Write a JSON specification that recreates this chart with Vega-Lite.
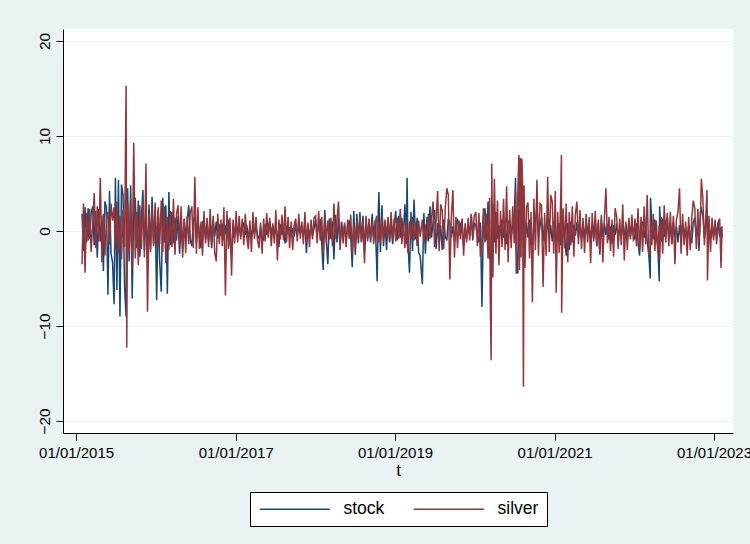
{
"$schema": "https://vega.github.io/schema/vega-lite/v6.json",
"width": 670, "height": 404,
"autosize": {"type": "none"},
"padding": {"left": 63, "top": 29, "right": 17, "bottom": 111},
"background": "#eaf2f3",
"config": {"view": {"fill": "white", "stroke": null}, "font": "Liberation Sans"},
"data": {"values": [
{"t":"2015-01-28","stock":1.8,"silver":-3.5},{"t":"2015-02-04","stock":-2.1,"silver":2.9},{"t":"2015-02-11","stock":2.5,"silver":-4.4},{"t":"2015-02-18","stock":-1.2,"silver":1.9},{"t":"2015-02-25","stock":2.4,"silver":-1.0},
{"t":"2015-03-04","stock":-0.8,"silver":2.3},{"t":"2015-03-11","stock":1.9,"silver":-2.2},{"t":"2015-03-18","stock":2.6,"silver":0.8},{"t":"2015-03-25","stock":-1.5,"silver":4.0},
{"t":"2015-04-01","stock":2.1,"silver":-1.8},{"t":"2015-04-08","stock":-2.8,"silver":2.6},{"t":"2015-04-15","stock":2.3,"silver":-1.1},{"t":"2015-04-22","stock":-1.1,"silver":5.6},{"t":"2015-04-29","stock":1.6,"silver":-3.3},
{"t":"2015-05-06","stock":-4.2,"silver":1.8},{"t":"2015-05-13","stock":3.1,"silver":-2.6},{"t":"2015-05-20","stock":2.5,"silver":1.2},{"t":"2015-05-27","stock":-6.7,"silver":2.0},
{"t":"2015-06-03","stock":4.2,"silver":-1.4},{"t":"2015-06-10","stock":-2.4,"silver":2.9},{"t":"2015-06-17","stock":-3.3,"silver":1.1},{"t":"2015-06-24","stock":-7.7,"silver":2.5},{"t":"2015-06-30","stock":5.6,"silver":-1.9},
{"t":"2015-07-07","stock":-6.2,"silver":3.1},{"t":"2015-07-14","stock":5.4,"silver":-2.3},{"t":"2015-07-21","stock":-9.0,"silver":1.6},{"t":"2015-07-28","stock":4.9,"silver":-3.0},
{"t":"2015-08-04","stock":3.8,"silver":2.2},{"t":"2015-08-11","stock":-5.8,"silver":-1.7},{"t":"2015-08-18","stock":-9.0,"silver":15.3},{"t":"2015-08-21","stock":2.6,"silver":-12.3},{"t":"2015-08-25","stock":4.5,"silver":2.9},
{"t":"2015-09-01","stock":-3.2,"silver":-2.1},{"t":"2015-09-08","stock":4.8,"silver":3.4},{"t":"2015-09-15","stock":-7.1,"silver":-4.0},{"t":"2015-09-22","stock":2.3,"silver":9.3},{"t":"2015-09-29","stock":3.5,"silver":-2.9},
{"t":"2015-10-06","stock":-1.8,"silver":2.0},{"t":"2015-10-13","stock":3.2,"silver":-3.6},{"t":"2015-10-20","stock":-2.7,"silver":2.7},{"t":"2015-10-27","stock":1.3,"silver":-1.9},
{"t":"2015-11-03","stock":4.3,"silver":3.1},{"t":"2015-11-10","stock":-2.0,"silver":-2.8},{"t":"2015-11-17","stock":1.7,"silver":7.1},{"t":"2015-11-24","stock":-3.0,"silver":-8.5},
{"t":"2015-12-01","stock":2.8,"silver":1.8},{"t":"2015-12-08","stock":-1.9,"silver":-2.2},{"t":"2015-12-15","stock":3.6,"silver":2.4},{"t":"2015-12-22","stock":-1.4,"silver":-1.6},{"t":"2015-12-29","stock":2.2,"silver":3.0},
{"t":"2016-01-05","stock":-7.3,"silver":-1.8},{"t":"2016-01-12","stock":2.1,"silver":2.5},{"t":"2016-01-19","stock":-3.3,"silver":-1.4},{"t":"2016-01-26","stock":-6.4,"silver":3.2},
{"t":"2016-02-02","stock":3.5,"silver":-2.2},{"t":"2016-02-09","stock":-1.2,"silver":2.6},{"t":"2016-02-16","stock":2.7,"silver":-3.4},{"t":"2016-02-23","stock":-6.6,"silver":1.5},
{"t":"2016-03-01","stock":4.1,"silver":-2.0},{"t":"2016-03-08","stock":-1.5,"silver":2.1},{"t":"2016-03-15","stock":2.0,"silver":-1.7},{"t":"2016-03-22","stock":-1.3,"silver":3.4},{"t":"2016-03-29","stock":1.4,"silver":-2.5},
{"t":"2016-04-05","stock":-1.0,"silver":1.8},{"t":"2016-04-12","stock":1.6,"silver":2.7},{"t":"2016-04-19","stock":-2.4,"silver":-1.5},{"t":"2016-04-26","stock":0.9,"silver":2.6},
{"t":"2016-05-03","stock":-1.9,"silver":-2.8},{"t":"2016-05-10","stock":1.3,"silver":1.2},{"t":"2016-05-17","stock":-0.8,"silver":-2.3},{"t":"2016-05-24","stock":1.1,"silver":1.6},{"t":"2016-05-31","stock":2.7,"silver":-1.4},
{"t":"2016-06-07","stock":-0.9,"silver":1.9},{"t":"2016-06-14","stock":-1.6,"silver":2.6},{"t":"2016-06-21","stock":1.0,"silver":-1.8},{"t":"2016-06-28","stock":1.5,"silver":5.7},
{"t":"2016-07-05","stock":-1.2,"silver":-2.4},{"t":"2016-07-12","stock":1.4,"silver":2.5},{"t":"2016-07-19","stock":-0.7,"silver":-1.9},{"t":"2016-07-26","stock":-1.8,"silver":1.0},
{"t":"2016-08-02","stock":0.9,"silver":-2.6},{"t":"2016-08-09","stock":1.2,"silver":2.1},{"t":"2016-08-16","stock":-0.9,"silver":-1.3},{"t":"2016-08-23","stock":0.6,"silver":1.4},{"t":"2016-08-30","stock":-1.1,"silver":-1.7},
{"t":"2016-09-06","stock":0.8,"silver":2.3},{"t":"2016-09-13","stock":-1.8,"silver":-1.2},{"t":"2016-09-20","stock":1.1,"silver":1.6},{"t":"2016-09-27","stock":-0.6,"silver":-2.3},
{"t":"2016-10-04","stock":1.0,"silver":-3.2},{"t":"2016-10-11","stock":-0.8,"silver":1.8},{"t":"2016-10-18","stock":0.7,"silver":-1.4},{"t":"2016-10-25","stock":-0.5,"silver":1.2},
{"t":"2016-11-01","stock":0.8,"silver":-1.6},{"t":"2016-11-08","stock":-1.0,"silver":2.5},{"t":"2016-11-15","stock":0.6,"silver":-6.8},{"t":"2016-11-22","stock":-0.8,"silver":2.1},{"t":"2016-11-29","stock":1.2,"silver":-1.9},
{"t":"2016-12-06","stock":-1.3,"silver":1.4},{"t":"2016-12-13","stock":-2.4,"silver":-4.7},{"t":"2016-12-20","stock":0.9,"silver":1.2},{"t":"2016-12-27","stock":-0.7,"silver":-1.3},
{"t":"2017-01-03","stock":0.7,"silver":2.1},{"t":"2017-01-10","stock":-0.5,"silver":-1.2},{"t":"2017-01-17","stock":0.4,"silver":1.6},{"t":"2017-01-24","stock":-0.6,"silver":-0.9},{"t":"2017-01-31","stock":0.3,"silver":1.3},
{"t":"2017-02-07","stock":0.9,"silver":-1.5},{"t":"2017-02-14","stock":-0.4,"silver":1.8},{"t":"2017-02-21","stock":0.6,"silver":-0.7},{"t":"2017-02-28","stock":-0.9,"silver":-1.9},
{"t":"2017-03-07","stock":0.5,"silver":1.1},{"t":"2017-03-14","stock":-0.7,"silver":-2.2},{"t":"2017-03-21","stock":0.4,"silver":2.0},{"t":"2017-03-28","stock":-0.3,"silver":-0.8},
{"t":"2017-04-04","stock":0.6,"silver":1.5},{"t":"2017-04-11","stock":-0.5,"silver":-1.0},{"t":"2017-04-18","stock":-0.8,"silver":-1.8},{"t":"2017-04-25","stock":0.4,"silver":0.9},
{"t":"2017-05-02","stock":-0.6,"silver":-2.4},{"t":"2017-05-09","stock":-0.9,"silver":1.3},{"t":"2017-05-16","stock":0.7,"silver":-1.1},{"t":"2017-05-23","stock":-0.4,"silver":1.9},{"t":"2017-05-30","stock":0.5,"silver":-0.7},
{"t":"2017-06-06","stock":1.0,"silver":1.4},{"t":"2017-06-13","stock":-0.3,"silver":-1.6},{"t":"2017-06-20","stock":0.6,"silver":0.8},{"t":"2017-06-27","stock":-0.4,"silver":-1.3},
{"t":"2017-07-04","stock":0.5,"silver":2.2},{"t":"2017-07-11","stock":-0.6,"silver":-3.1},{"t":"2017-07-18","stock":-1.7,"silver":1.2},{"t":"2017-07-25","stock":0.7,"silver":-0.9},
{"t":"2017-08-01","stock":-0.4,"silver":1.7},{"t":"2017-08-08","stock":0.5,"silver":-1.0},{"t":"2017-08-15","stock":-1.3,"silver":2.6},{"t":"2017-08-22","stock":0.6,"silver":-1.2},{"t":"2017-08-29","stock":-0.3,"silver":1.5},
{"t":"2017-09-05","stock":0.4,"silver":-1.8},{"t":"2017-09-12","stock":-0.5,"silver":1.0},{"t":"2017-09-19","stock":0.3,"silver":-2.0},{"t":"2017-09-26","stock":-0.6,"silver":0.7},
{"t":"2017-10-03","stock":0.7,"silver":1.3},{"t":"2017-10-10","stock":-0.4,"silver":-1.1},{"t":"2017-10-17","stock":0.5,"silver":1.8},{"t":"2017-10-24","stock":-0.3,"silver":-0.8},{"t":"2017-10-31","stock":0.6,"silver":1.0},
{"t":"2017-11-07","stock":-0.5,"silver":-1.4},{"t":"2017-11-14","stock":0.8,"silver":2.0},{"t":"2017-11-21","stock":-2.3,"silver":-1.2},{"t":"2017-11-28","stock":0.7,"silver":0.9},
{"t":"2017-12-05","stock":-0.6,"silver":-1.7},{"t":"2017-12-12","stock":0.4,"silver":1.2},{"t":"2017-12-19","stock":-0.5,"silver":-0.9},{"t":"2017-12-26","stock":0.3,"silver":1.4},
{"t":"2018-01-02","stock":1.2,"silver":1.6},{"t":"2018-01-09","stock":-0.5,"silver":-1.3},{"t":"2018-01-16","stock":0.8,"silver":2.1},{"t":"2018-01-23","stock":1.1,"silver":-1.0},{"t":"2018-01-30","stock":-1.4,"silver":1.5},
{"t":"2018-02-06","stock":-4.1,"silver":-2.3},{"t":"2018-02-13","stock":2.2,"silver":1.8},{"t":"2018-02-20","stock":-0.9,"silver":-1.2},{"t":"2018-02-27","stock":-3.5,"silver":1.1},
{"t":"2018-03-06","stock":1.3,"silver":-0.9},{"t":"2018-03-13","stock":-0.8,"silver":1.4},{"t":"2018-03-20","stock":1.0,"silver":-1.6},{"t":"2018-03-27","stock":-3.0,"silver":2.9},
{"t":"2018-04-03","stock":1.7,"silver":-0.8},{"t":"2018-04-10","stock":-1.2,"silver":1.2},{"t":"2018-04-17","stock":1.4,"silver":3.1},{"t":"2018-04-24","stock":-1.5,"silver":-2.0},
{"t":"2018-05-01","stock":0.9,"silver":1.0},{"t":"2018-05-08","stock":-0.6,"silver":-1.3},{"t":"2018-05-15","stock":0.7,"silver":0.9},{"t":"2018-05-22","stock":-1.0,"silver":-1.7},{"t":"2018-05-29","stock":0.5,"silver":1.2},
{"t":"2018-06-05","stock":1.1,"silver":-0.8},{"t":"2018-06-12","stock":-0.7,"silver":1.7},{"t":"2018-06-19","stock":-3.8,"silver":-2.5},{"t":"2018-06-26","stock":2.1,"silver":0.7},
{"t":"2018-07-03","stock":-2.5,"silver":-1.8},{"t":"2018-07-10","stock":1.8,"silver":1.1},{"t":"2018-07-17","stock":-1.3,"silver":-0.9},{"t":"2018-07-24","stock":2.0,"silver":1.5},{"t":"2018-07-31","stock":-1.1,"silver":-1.2},
{"t":"2018-08-07","stock":1.6,"silver":0.8},{"t":"2018-08-14","stock":-2.2,"silver":-3.4},{"t":"2018-08-21","stock":1.3,"silver":1.6},{"t":"2018-08-28","stock":-0.9,"silver":-1.1},
{"t":"2018-09-04","stock":0.8,"silver":1.3},{"t":"2018-09-11","stock":-1.2,"silver":-0.7},{"t":"2018-09-18","stock":1.8,"silver":1.0},{"t":"2018-09-25","stock":-0.6,"silver":-1.4},
{"t":"2018-10-02","stock":1.1,"silver":0.9},{"t":"2018-10-09","stock":-3.7,"silver":1.6},{"t":"2018-10-11","stock":-5.3,"silver":-0.8},{"t":"2018-10-16","stock":2.0,"silver":-1.2},{"t":"2018-10-19","stock":4.1,"silver":1.0},{"t":"2018-10-26","stock":-2.2,"silver":-1.4},
{"t":"2018-11-02","stock":2.7,"silver":1.8},{"t":"2018-11-09","stock":-1.6,"silver":-1.0},{"t":"2018-11-16","stock":0.9,"silver":1.2},{"t":"2018-11-23","stock":-2.0,"silver":-0.7},{"t":"2018-11-30","stock":1.3,"silver":1.5},
{"t":"2018-12-07","stock":-1.1,"silver":-1.2},{"t":"2018-12-14","stock":0.8,"silver":2.0},{"t":"2018-12-21","stock":-1.4,"silver":-0.9},{"t":"2018-12-28","stock":0.6,"silver":1.3},
{"t":"2019-01-04","stock":2.1,"silver":-1.1},{"t":"2019-01-11","stock":-1.0,"silver":1.4},{"t":"2019-01-18","stock":1.6,"silver":-0.8},{"t":"2019-01-25","stock":-0.7,"silver":2.3},
{"t":"2019-02-01","stock":1.4,"silver":-1.4},{"t":"2019-02-08","stock":-0.5,"silver":0.9},{"t":"2019-02-15","stock":2.8,"silver":-1.8},{"t":"2019-02-22","stock":-1.4,"silver":1.2},{"t":"2019-02-25","stock":5.6,"silver":-0.9},
{"t":"2019-03-01","stock":-1.2,"silver":-2.3},{"t":"2019-03-08","stock":-4.4,"silver":1.0},{"t":"2019-03-15","stock":2.0,"silver":-0.8},{"t":"2019-03-22","stock":-2.1,"silver":1.5},{"t":"2019-03-29","stock":3.3,"silver":-1.0},
{"t":"2019-04-05","stock":-0.9,"silver":0.9},{"t":"2019-04-12","stock":1.4,"silver":-1.6},{"t":"2019-04-19","stock":-2.3,"silver":1.1},{"t":"2019-04-26","stock":-2.6,"silver":-0.6},
{"t":"2019-05-06","stock":-5.6,"silver":1.2},{"t":"2019-05-13","stock":1.9,"silver":-1.3},{"t":"2019-05-20","stock":-2.4,"silver":0.7},{"t":"2019-05-27","stock":1.5,"silver":-1.0},
{"t":"2019-06-03","stock":-1.1,"silver":1.8},{"t":"2019-06-10","stock":2.6,"silver":-0.8},{"t":"2019-06-17","stock":-0.7,"silver":1.3},{"t":"2019-06-24","stock":0.9,"silver":3.1},
{"t":"2019-07-01","stock":2.2,"silver":-1.7},{"t":"2019-07-08","stock":-1.9,"silver":1.0},{"t":"2019-07-15","stock":0.8,"silver":4.2},{"t":"2019-07-22","stock":-1.3,"silver":-2.1},{"t":"2019-07-29","stock":0.6,"silver":2.8},
{"t":"2019-08-05","stock":-2.0,"silver":2.2},{"t":"2019-08-12","stock":1.2,"silver":-1.9},{"t":"2019-08-19","stock":-0.6,"silver":2.4},{"t":"2019-08-26","stock":-1.0,"silver":4.5},
{"t":"2019-09-02","stock":1.3,"silver":3.8},{"t":"2019-09-09","stock":0.8,"silver":-5.1},{"t":"2019-09-16","stock":-0.7,"silver":1.6},{"t":"2019-09-23","stock":0.5,"silver":4.3},{"t":"2019-09-30","stock":-1.0,"silver":-2.8},
{"t":"2019-10-07","stock":0.6,"silver":1.5},{"t":"2019-10-14","stock":1.3,"silver":-1.8},{"t":"2019-10-21","stock":-0.5,"silver":1.1},{"t":"2019-10-28","stock":0.7,"silver":-0.9},
{"t":"2019-11-04","stock":1.0,"silver":1.3},{"t":"2019-11-11","stock":-1.6,"silver":-2.6},{"t":"2019-11-18","stock":0.4,"silver":0.8},{"t":"2019-11-25","stock":-0.8,"silver":-1.2},
{"t":"2019-12-02","stock":0.6,"silver":1.4},{"t":"2019-12-09","stock":-0.5,"silver":-1.0},{"t":"2019-12-16","stock":1.7,"silver":1.8},{"t":"2019-12-23","stock":-1.0,"silver":-0.7},{"t":"2019-12-30","stock":0.8,"silver":1.6},
{"t":"2020-01-06","stock":0.6,"silver":2.0},{"t":"2020-01-13","stock":-0.5,"silver":-1.6},{"t":"2020-01-20","stock":-1.2,"silver":1.9},{"t":"2020-01-27","stock":0.9,"silver":-2.7},
{"t":"2020-02-03","stock":-8.0,"silver":-1.1},{"t":"2020-02-10","stock":1.6,"silver":2.4},{"t":"2020-02-17","stock":2.4,"silver":-1.2},{"t":"2020-02-24","stock":-1.0,"silver":1.8},
{"t":"2020-03-02","stock":3.1,"silver":-2.9},{"t":"2020-03-09","stock":-3.0,"silver":3.5},{"t":"2020-03-12","stock":-1.5,"silver":-6.5},{"t":"2020-03-16","stock":-3.4,"silver":-13.6},{"t":"2020-03-19","stock":1.9,"silver":7.1},{"t":"2020-03-24","stock":2.8,"silver":-4.9},{"t":"2020-03-31","stock":-1.2,"silver":5.5},
{"t":"2020-04-07","stock":2.0,"silver":-2.4},{"t":"2020-04-14","stock":-0.8,"silver":3.2},{"t":"2020-04-21","stock":0.6,"silver":-3.6},{"t":"2020-04-28","stock":-0.5,"silver":2.1},
{"t":"2020-05-05","stock":1.2,"silver":-1.7},{"t":"2020-05-12","stock":-0.7,"silver":3.4},{"t":"2020-05-19","stock":0.9,"silver":-2.0},{"t":"2020-05-26","stock":-1.4,"silver":4.7},
{"t":"2020-06-02","stock":0.8,"silver":-3.3},{"t":"2020-06-09","stock":1.2,"silver":2.2},{"t":"2020-06-16","stock":-0.6,"silver":-1.8},{"t":"2020-06-23","stock":0.7,"silver":2.6},{"t":"2020-06-30","stock":1.5,"silver":-1.3},
{"t":"2020-07-06","stock":5.6,"silver":4.1},{"t":"2020-07-09","stock":-1.8,"silver":-4.5},{"t":"2020-07-16","stock":-4.5,"silver":3.6},{"t":"2020-07-21","stock":2.3,"silver":8.0},{"t":"2020-07-24","stock":1.0,"silver":-4.1},{"t":"2020-07-28","stock":-0.8,"silver":7.7},{"t":"2020-07-31","stock":1.2,"silver":-2.8},
{"t":"2020-08-04","stock":0.4,"silver":7.6},{"t":"2020-08-07","stock":1.3,"silver":5.2},{"t":"2020-08-11","stock":-1.6,"silver":-16.4},{"t":"2020-08-14","stock":0.8,"silver":4.8},{"t":"2020-08-18","stock":-1.3,"silver":-3.9},{"t":"2020-08-25","stock":0.9,"silver":2.5},
{"t":"2020-09-01","stock":-0.7,"silver":3.0},{"t":"2020-09-08","stock":1.2,"silver":-2.9},{"t":"2020-09-15","stock":-0.5,"silver":2.0},{"t":"2020-09-21","stock":-1.5,"silver":-7.5},{"t":"2020-09-28","stock":0.8,"silver":3.4},
{"t":"2020-10-05","stock":1.1,"silver":-2.0},{"t":"2020-10-12","stock":2.6,"silver":5.4},{"t":"2020-10-19","stock":-0.6,"silver":-2.6},{"t":"2020-10-26","stock":0.5,"silver":2.9},
{"t":"2020-11-02","stock":1.4,"silver":2.7},{"t":"2020-11-09","stock":-1.0,"silver":-5.9},{"t":"2020-11-16","stock":0.7,"silver":1.9},{"t":"2020-11-23","stock":-0.8,"silver":-2.6},{"t":"2020-11-30","stock":1.3,"silver":5.7},
{"t":"2020-12-07","stock":-0.7,"silver":-2.2},{"t":"2020-12-14","stock":0.6,"silver":3.8},{"t":"2020-12-21","stock":-1.1,"silver":3.1},{"t":"2020-12-28","stock":0.9,"silver":-2.4},
{"t":"2021-01-04","stock":0.7,"silver":4.2},{"t":"2021-01-08","stock":-0.6,"silver":-6.5},{"t":"2021-01-15","stock":-0.9,"silver":2.0},{"t":"2021-01-22","stock":0.8,"silver":-2.3},{"t":"2021-01-29","stock":-1.5,"silver":3.6},
{"t":"2021-02-01","stock":0.6,"silver":8.0},{"t":"2021-02-02","stock":-0.4,"silver":-8.6},{"t":"2021-02-09","stock":1.3,"silver":2.4},{"t":"2021-02-16","stock":-0.8,"silver":-1.8},{"t":"2021-02-23","stock":-2.6,"silver":2.9},
{"t":"2021-03-02","stock":0.8,"silver":-3.3},{"t":"2021-03-09","stock":-2.0,"silver":2.0},{"t":"2021-03-16","stock":1.0,"silver":-1.5},{"t":"2021-03-23","stock":-1.2,"silver":2.6},{"t":"2021-03-30","stock":0.7,"silver":-2.7},
{"t":"2021-04-06","stock":-0.5,"silver":1.8},{"t":"2021-04-13","stock":0.9,"silver":3.1},{"t":"2021-04-20","stock":-0.7,"silver":-1.4},{"t":"2021-04-27","stock":0.6,"silver":2.2},
{"t":"2021-05-04","stock":-0.8,"silver":-1.9},{"t":"2021-05-11","stock":0.5,"silver":1.4},{"t":"2021-05-18","stock":-0.6,"silver":-2.3},{"t":"2021-05-25","stock":1.0,"silver":1.8},
{"t":"2021-06-01","stock":-0.4,"silver":-1.2},{"t":"2021-06-08","stock":0.7,"silver":1.5},{"t":"2021-06-15","stock":-0.9,"silver":-3.4},{"t":"2021-06-22","stock":0.6,"silver":1.9},{"t":"2021-06-29","stock":-0.8,"silver":-1.1},
{"t":"2021-07-06","stock":1.1,"silver":2.1},{"t":"2021-07-13","stock":-1.6,"silver":-1.6},{"t":"2021-07-20","stock":0.9,"silver":1.2},{"t":"2021-07-27","stock":-2.5,"silver":-2.2},
{"t":"2021-08-03","stock":1.2,"silver":1.7},{"t":"2021-08-10","stock":-0.6,"silver":-3.3},{"t":"2021-08-17","stock":0.8,"silver":1.4},{"t":"2021-08-24","stock":-0.4,"silver":4.5},{"t":"2021-08-31","stock":0.7,"silver":-1.3},
{"t":"2021-09-07","stock":-0.9,"silver":1.5},{"t":"2021-09-14","stock":0.5,"silver":-2.1},{"t":"2021-09-21","stock":-1.3,"silver":1.2},{"t":"2021-09-28","stock":0.6,"silver":-2.7},
{"t":"2021-10-05","stock":-0.4,"silver":2.4},{"t":"2021-10-12","stock":0.8,"silver":1.6},{"t":"2021-10-19","stock":-0.7,"silver":-1.9},{"t":"2021-10-26","stock":0.5,"silver":1.3},
{"t":"2021-11-02","stock":-0.6,"silver":-1.5},{"t":"2021-11-09","stock":0.4,"silver":2.8},{"t":"2021-11-16","stock":-0.5,"silver":-3.1},{"t":"2021-11-23","stock":0.7,"silver":1.0},{"t":"2021-11-30","stock":-0.8,"silver":-2.0},
{"t":"2021-12-07","stock":1.0,"silver":1.4},{"t":"2021-12-14","stock":-0.6,"silver":-0.9},{"t":"2021-12-21","stock":0.5,"silver":1.7},{"t":"2021-12-28","stock":-0.4,"silver":-1.1},
{"t":"2022-01-04","stock":-0.9,"silver":1.3},{"t":"2022-01-11","stock":0.8,"silver":-1.6},{"t":"2022-01-18","stock":-1.2,"silver":2.4},{"t":"2022-01-25","stock":-2.6,"silver":-1.9},
{"t":"2022-02-01","stock":0.6,"silver":1.5},{"t":"2022-02-08","stock":1.0,"silver":-2.2},{"t":"2022-02-15","stock":-0.7,"silver":2.6},{"t":"2022-02-22","stock":0.4,"silver":-1.4},
{"t":"2022-03-01","stock":-1.1,"silver":3.8},{"t":"2022-03-08","stock":-2.4,"silver":-2.6},{"t":"2022-03-15","stock":-5.0,"silver":-1.7},{"t":"2022-03-16","stock":3.5,"silver":1.2},{"t":"2022-03-22","stock":0.8,"silver":-1.5},{"t":"2022-03-29","stock":-0.9,"silver":1.8},
{"t":"2022-04-05","stock":1.2,"silver":-2.1},{"t":"2022-04-12","stock":-0.7,"silver":1.1},{"t":"2022-04-19","stock":-1.8,"silver":-2.3},{"t":"2022-04-25","stock":-5.3,"silver":0.6},{"t":"2022-04-27","stock":2.6,"silver":-3.0},
{"t":"2022-05-04","stock":-1.1,"silver":1.5},{"t":"2022-05-11","stock":1.3,"silver":-2.4},{"t":"2022-05-18","stock":-0.6,"silver":2.7},{"t":"2022-05-25","stock":0.9,"silver":-1.2},
{"t":"2022-06-01","stock":1.5,"silver":1.9},{"t":"2022-06-08","stock":-0.8,"silver":-1.6},{"t":"2022-06-15","stock":0.6,"silver":2.0},{"t":"2022-06-22","stock":-1.4,"silver":-1.3},{"t":"2022-06-29","stock":1.0,"silver":1.6},
{"t":"2022-07-06","stock":-0.7,"silver":-3.5},{"t":"2022-07-13","stock":0.5,"silver":1.2},{"t":"2022-07-20","stock":-1.2,"silver":2.0},{"t":"2022-07-27","stock":0.6,"silver":4.5},
{"t":"2022-08-03","stock":-0.9,"silver":-2.4},{"t":"2022-08-10","stock":0.7,"silver":1.8},{"t":"2022-08-17","stock":-0.5,"silver":-1.5},{"t":"2022-08-24","stock":0.4,"silver":1.0},{"t":"2022-08-31","stock":-1.0,"silver":-2.6},
{"t":"2022-09-07","stock":0.6,"silver":1.5},{"t":"2022-09-14","stock":-0.7,"silver":-2.0},{"t":"2022-09-21","stock":-1.3,"silver":1.3},{"t":"2022-09-28","stock":0.9,"silver":3.2},
{"t":"2022-10-05","stock":1.4,"silver":2.4},{"t":"2022-10-12","stock":-0.6,"silver":-1.9},{"t":"2022-10-19","stock":0.5,"silver":2.3},{"t":"2022-10-24","stock":-2.1,"silver":-1.2},{"t":"2022-10-31","stock":2.0,"silver":1.6},
{"t":"2022-11-04","stock":2.3,"silver":5.5},{"t":"2022-11-11","stock":1.6,"silver":3.4},{"t":"2022-11-18","stock":-0.8,"silver":-1.5},{"t":"2022-11-25","stock":0.7,"silver":1.8},{"t":"2022-11-30","stock":2.2,"silver":4.3},
{"t":"2022-12-02","stock":-0.4,"silver":-5.2},{"t":"2022-12-09","stock":0.6,"silver":1.6},{"t":"2022-12-16","stock":-0.8,"silver":-2.2},{"t":"2022-12-23","stock":0.5,"silver":1.4},{"t":"2022-12-30","stock":-0.6,"silver":-1.0},
{"t":"2023-01-06","stock":0.8,"silver":1.2},{"t":"2023-01-13","stock":-0.5,"silver":-1.4},{"t":"2023-01-20","stock":0.9,"silver":0.9},{"t":"2023-01-27","stock":-0.6,"silver":1.3},{"t":"2023-02-02","stock":0.4,"silver":-3.9},{"t":"2023-02-07","stock":-0.7,"silver":0.5}
]},
"transform": [{"fold": ["stock", "silver"], "as": ["series", "value"]}],
"mark": {"type": "line", "strokeWidth": 1.5},
"encoding": {
  "x": {"field": "t", "type": "temporal",
    "scale": {"type": "utc", "domain": [{"year": 2014, "month": 11, "date": 2, "utc": true}, {"year": 2023, "month": 3, "date": 29, "utc": true}]},
    "axis": {"title": "t", "values": [{"year": 2015, "month": 1, "date": 1, "utc": true}, {"year": 2017, "month": 1, "date": 1, "utc": true}, {"year": 2019, "month": 1, "date": 1, "utc": true}, {"year": 2021, "month": 1, "date": 1, "utc": true}, {"year": 2023, "month": 1, "date": 1, "utc": true}],
      "format": "%m/%d/%Y", "grid": false, "domainColor": "black", "tickColor": "black", "tickSize": 7, "labelFontSize": 15, "labelColor": "black", "labelPadding": 5, "labelFlush": false, "labelOverlap": false,
      "titleFontSize": 17, "titleFontWeight": "normal", "titleColor": "black", "titlePadding": 2}},
  "y": {"field": "value", "type": "quantitative",
    "scale": {"domain": [-21.26, 21.26], "nice": false, "zero": false},
    "axis": {"title": null, "values": [-20, -10, 0, 10, 20], "labelAngle": -90, "labelAlign": "center", "labelBaseline": "alphabetic", "labelPadding": 7,
      "labelFontSize": 15.5, "labelColor": "black", "domainColor": "black", "tickColor": "black", "tickSize": 7, "grid": true, "gridColor": "#eaf2f3", "gridWidth": 1.2}},
  "color": {"field": "series", "type": "nominal",
    "scale": {"domain": ["stock", "silver"], "range": ["#1a476f", "#90353b"]},
    "legend": {"title": null, "orient": "none", "legendX": 187, "legendY": 463, "direction": "horizontal",
      "symbolType": "M-1,0H9", "symbolSize": 196, "symbolStrokeWidth": 1.5, "labelFontSize": 17.5, "labelColor": "black", "labelOffset": 68, "columnPadding": 25,
      "padding": 8, "strokeColor": "black", "fillColor": "white", "cornerRadius": 0}}
}
}
